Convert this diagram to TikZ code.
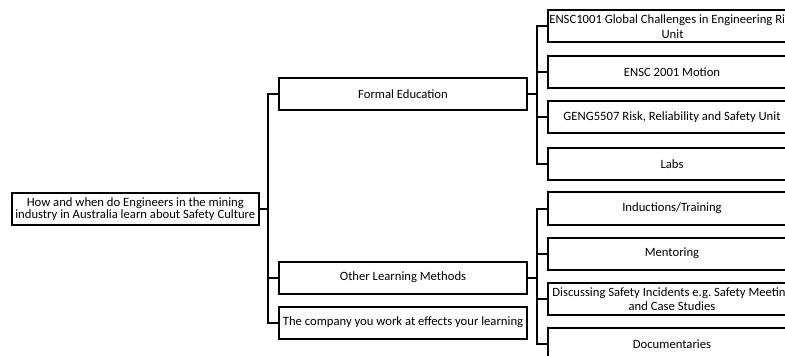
\documentclass[tikz,border=0pt]{standalone}
\usepackage{fontspec}
\setmainfont{Carlito}
\frenchspacing

\tikzset{
  box/.style={draw,rectangle,align=center,inner sep=1pt,minimum height=24pt,
    minimum width=186pt,anchor=west,font=\fontsize{9.5}{11}\selectfont},
  link/.style={line width=1.5pt}
}

\begin{document}
\begin{tikzpicture}[x=0.75pt,y=-0.75pt,line width=1.5pt]
    \useasboundingbox (0,0) rectangle (785,356);
    \clip (0,0) rectangle (785,356);

    % question
    \node[box,minimum width=185pt,font=\fontsize{9.5}{8.8}\selectfont] (root) at (11,209)
      {How and when do Engineers in the mining\\industry in Australia learn about Safety Culture};

    % main branches
    \node[box] (formal) at (278,94.5) {Formal Education};
    \node[box] (other) at (278,277.5) {Other Learning Methods};
    \node[box] (company) at (278,322.5) {The company you work at effects your learning};

    % formal education
    \node[box] (f1) at (547,26.5) {ENSC1001 Global Challenges in Engineering Risk\\Unit};
    \node[box] (f2) at (547,72.5) {ENSC 2001 Motion};
    \node[box] (f3) at (547,117.5) {GENG5507 Risk, Reliability and Safety Unit};
    \node[box] (f4) at (547,164) {Labs};

    % other methods
    \node[box] (m1) at (547,208.5) {Inductions/Training};
    \node[box] (m2) at (547,253.5) {Mentoring};
    \node[box] (m3) at (547,299) {Discussing Safety Incidents e.g. Safety Meeting\\and Case Studies};
    \node[box] (m4) at (547,344) {Documentaries};

    % junctions
    \coordinate (j1) at (268,209);
    \coordinate (j2) at (537,94.5);
    \coordinate (j3) at (537,277.5);

    \draw[link] (root.east) -- (j1);
    \foreach \n in {formal,other,company}
      \draw[link] (j1) |- (\n.west);

    \draw[link] (formal.east) -- (j2);
    \foreach \n in {f1,f2,f3,f4}
      \draw[link] (j2) |- (\n.west);

    \draw[link] (other.east) -- (j3);
    \foreach \n in {m1,m2,m3,m4}
      \draw[link] (j3) |- (\n.west);
\end{tikzpicture}
\end{document}
